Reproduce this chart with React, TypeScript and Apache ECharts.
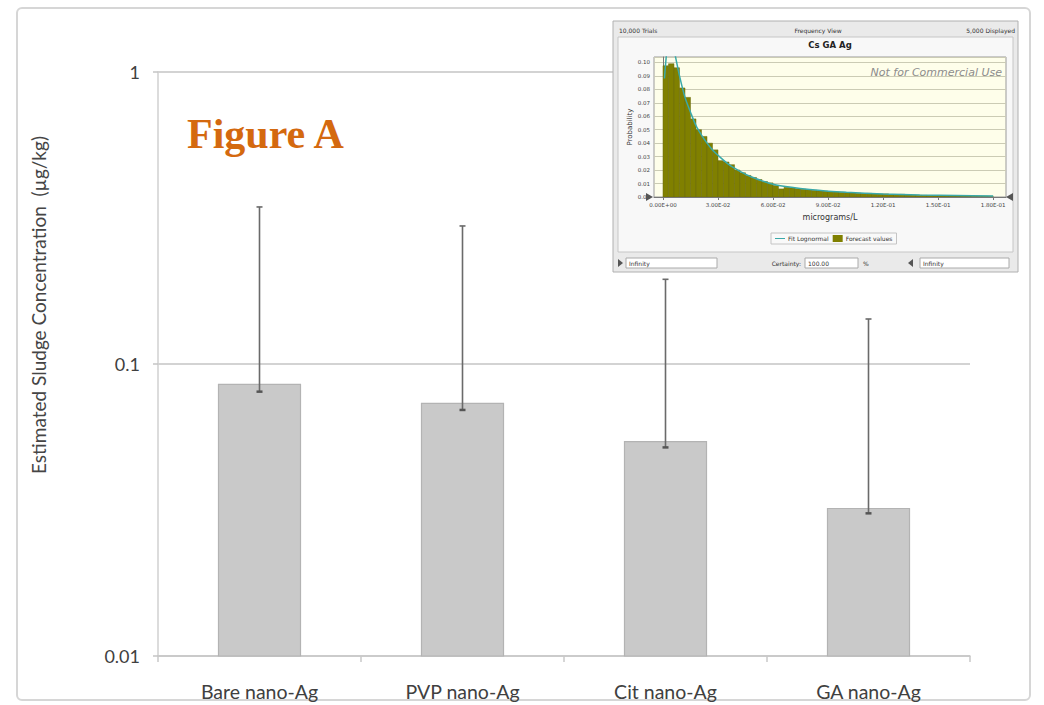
import React, { useEffect, useRef } from "react";
import * as echarts from "echarts";

// ---- main chart data ----
const categories = ["Bare nano-Ag", "PVP nano-Ag", "Cit nano-Ag", "GA nano-Ag"];
const meanValues = [0.0852, 0.0733, 0.0542, 0.032];
const lowerValues = [0.0804, 0.0696, 0.0518, 0.0308];
const upperValues = [0.345, 0.297, 0.195, 0.1426];
const yTickLabels = ["0.01", "0.1", "1"];

// ---- inset histogram data ----
const binWidth = 0.003;
const histValues = [
  0.0975, 0.099, 0.096, 0.081, 0.074, 0.058, 0.05, 0.045, 0.04, 0.035,
  0.027, 0.026, 0.024, 0.02, 0.018, 0.016, 0.0145, 0.013, 0.0115, 0.0105,
  0.0085, 0.006, 0.0072, 0.0068, 0.0062, 0.0058, 0.0055, 0.005, 0.0046, 0.0044,
  0.004, 0.0037, 0.0035, 0.0033, 0.003, 0.0028, 0.0026, 0.0027, 0.0024, 0.0022,
  0.0023, 0.0018, 0.0019, 0.002, 0.0016, 0.0014, 0.0013, 0.0012, 0.0011, 0.001,
  0.001, 0.0009, 0.0008, 0.0008, 0.0007, 0.0007, 0.0006, 0.0006, 0.0006, 0.0005,
];
const fitX = [0.0008, 0.0015, 0.0025, 0.004, 0.0055, 0.007, 0.009, 0.012, 0.015, 0.018, 0.021, 0.024, 0.027, 0.03, 0.036, 0.042, 0.048, 0.054, 0.06, 0.07, 0.08, 0.09, 0.1, 0.12, 0.14, 0.16, 0.18];
const fitY = [0.088, 0.1, 0.112, 0.118, 0.113, 0.103, 0.09, 0.074, 0.063, 0.053, 0.046, 0.04, 0.035, 0.031, 0.024, 0.019, 0.015, 0.012, 0.0095, 0.0072, 0.0055, 0.0043, 0.0035, 0.0023, 0.0015, 0.0011, 0.0008];
const insetXTicks = [0, 0.03, 0.06, 0.09, 0.12, 0.15, 0.18];

const FONT = "Lato";

function sciLabel(v: number): string {
  const [m, e] = v.toExponential(2).split("e");
  const sign = e[0] === "-" ? "-" : "+";
  const digits = e.replace(/[+-]/, "").padStart(2, "0");
  return m + "E" + sign + digits;
}

export default function App() {
  const ref = useRef<HTMLDivElement>(null);
  useEffect(() => {
    if (!ref.current) return;
    const chart = echarts.init(ref.current, undefined, { renderer: "svg" });

    const barData = categories.map((c, i) => [i, meanValues[i]]);
    const errData = categories.map((c, i) => [i, lowerValues[i], upperValues[i]]);
    const histData = histValues.map((v, i) => [i * binWidth, (i + 1) * binWidth, v]);
    const fitData = fitX.map((x, i) => [x, fitY[i]]);

    const boxText = (x: number, y: number, text: string, align = "left") => ({
      type: "text",
      z: 105,
      style: { x, y, text, fontSize: 6, fontFamily: "DejaVu Sans", fill: "#333", textAlign: align, textVerticalAlign: "middle" },
    });

    const option: any = {
      animation: false,
      backgroundColor: "#fff",
      grid: [
        { left: 158, top: 72, width: 812, height: 584, containLabel: false },
        {
          left: 654, top: 57, width: 352, height: 140, show: true, z: 110,
          backgroundColor: "#fefeea", borderColor: "#9a9a9a", borderWidth: 1,
        },
      ],
      legend: {
        z: 120,
        left: 771, top: 233,
        orient: "horizontal",
        data: [
          { name: "Fit Lognormal", icon: "path://M0,4 H20 V6 H0 Z" },
          { name: "Forecast values", icon: "rect" },
        ],
        itemWidth: 10, itemHeight: 7, itemGap: 4,
        padding: [2, 4],
        backgroundColor: "#f9f9f9",
        borderColor: "#c4c4c4", borderWidth: 1,
        textStyle: { fontSize: 6, color: "#333", fontFamily: "DejaVu Sans", padding: [0, 0, 0, -2] },
      },
      xAxis: [
        {
          type: "category", gridIndex: 0, data: categories, boundaryGap: true,
          axisLine: { lineStyle: { color: "#c8c8c8", width: 1.5 } },
          axisTick: { show: true, length: 6, lineStyle: { color: "#c8c8c8", width: 1.5 } },
          axisLabel: { color: "#404040", fontSize: 19.5, fontFamily: FONT, margin: 25 },
          splitLine: { show: false },
        },
        {
          type: "value", gridIndex: 1, min: -0.0049, max: 0.187, z: 112,
          name: "micrograms/L", nameLocation: "middle", nameGap: 16,
          nameTextStyle: { fontSize: 8, color: "#333", fontFamily: "DejaVu Sans" },
          axisLine: { show: true, lineStyle: { color: "#777", width: 1 } },
          axisTick: { show: true, length: 3, customValues: insetXTicks, lineStyle: { color: "#777" } },
          axisLabel: {
            customValues: insetXTicks, fontSize: 5.5, color: "#444", margin: 5, fontFamily: "DejaVu Sans",
            formatter: (v: number) => sciLabel(v),
          },
          splitLine: { show: false },
        },
      ],
      yAxis: [
        {
          type: "log", gridIndex: 0, min: 0.01, max: 1, logBase: 10,
          axisLine: { show: true, lineStyle: { color: "#d0d0d0", width: 1.5 } },
          axisTick: { show: true, length: 5, lineStyle: { color: "#c4c4c4", width: 1.5 } },
          axisLabel: {
            color: "#404040", fontSize: 18, fontFamily: FONT, margin: 18,
            formatter: (v: number) => {
              const s = parseFloat(v.toPrecision(6)).toString();
              return yTickLabels.includes(s) ? s : "";
            },
          },
          splitLine: { show: true, lineStyle: { color: "#c4c4c4", width: 1.5 } },
          minorTick: { show: false },
        },
        {
          type: "value", gridIndex: 1, min: 0, max: 0.104, interval: 0.01, z: 112,
          name: "Probability", nameLocation: "middle", nameGap: 20,
          nameTextStyle: { fontSize: 7, color: "#333", fontFamily: "DejaVu Sans" },
          axisLine: { show: true, lineStyle: { color: "#777", width: 1 } },
          axisTick: { show: false },
          axisLabel: {
            fontSize: 5.5, color: "#444", margin: 4, fontFamily: "DejaVu Sans", showMaxLabel: false,
            formatter: (v: number) => v.toFixed(2),
          },
          splitLine: { show: true, lineStyle: { color: "#cbcbb4", width: 1 } },
        },
      ],
      graphic: [
        // outer chart frame
        {
          type: "rect", z: 0,
          shape: { x: 17, y: 8, width: 1013, height: 692, r: 5 },
          style: { fill: "none", stroke: "#d6d6d6", lineWidth: 2 },
        },
        {
          type: "text", z: 5,
          x: 38, y: 305, rotation: Math.PI / 2,
          style: {
            x: 0, y: 0, text: "Estimated Sludge Concentration  (µg/kg)",
            fontSize: 19, fontFamily: FONT, fill: "#454545",
            textAlign: "center", textVerticalAlign: "middle",
          },
        },
        {
          type: "text", z: 5,
          style: {
            x: 187, y: 134, text: "Figure A", fontSize: 42, fontWeight: "bold",
            fontFamily: "Liberation Serif", fill: "#d4690f", textVerticalAlign: "middle",
          },
        },
        // inset window
        {
          type: "rect", z: 100,
          shape: { x: 613, y: 21, width: 405, height: 251 },
          style: { fill: "#eaeaea", stroke: "#b0b0b0", lineWidth: 1 },
        },
        {
          type: "rect", z: 101,
          shape: { x: 618, y: 37, width: 395, height: 215 },
          style: { fill: "#f8f8f8", stroke: "#c6c6c6", lineWidth: 1 },
        },
        boxText(619, 30, "10,000 Trials"),
        boxText(818, 30, "Frequency View", "center"),
        boxText(1015, 30, "5,000 Displayed", "right"),
        {
          type: "text", z: 105,
          style: { x: 830, y: 45, text: "Cs GA Ag", fontSize: 8.5, fontWeight: "bold", fontFamily: "DejaVu Sans", fill: "#222", textAlign: "center", textVerticalAlign: "middle" },
        },
        {
          type: "text", z: 130,
          style: { x: 1002, y: 72, text: "Not for Commercial Use", fontSize: 11, fontStyle: "italic", fontFamily: "DejaVu Sans", fill: "#8c8c8c", textAlign: "right", textVerticalAlign: "middle" },
        },
        { type: "polygon", z: 130, shape: { points: [[646, 193], [653, 197], [646, 201]] }, style: { fill: "#555" } },
        { type: "polygon", z: 130, shape: { points: [[1013, 193], [1006, 197], [1013, 201]] }, style: { fill: "#555" } },
        // bottom control row
        { type: "polygon", z: 105, shape: { points: [[618, 259], [623, 263], [618, 267]] }, style: { fill: "#555" } },
        { type: "rect", z: 104, shape: { x: 626, y: 258, width: 91, height: 10 }, style: { fill: "#fff", stroke: "#aaa", lineWidth: 1 } },
        boxText(629, 263, "Infinity"),
        boxText(801, 263, "Certainty:", "right"),
        { type: "rect", z: 104, shape: { x: 805, y: 258, width: 53, height: 10 }, style: { fill: "#fff", stroke: "#aaa", lineWidth: 1 } },
        boxText(808, 263, "100.00"),
        boxText(863, 263, "%"),
        { type: "polygon", z: 105, shape: { points: [[913, 259], [908, 263], [913, 267]] }, style: { fill: "#555" } },
        { type: "rect", z: 104, shape: { x: 920, y: 258, width: 89, height: 10 }, style: { fill: "#fff", stroke: "#aaa", lineWidth: 1 } },
        boxText(923, 263, "Infinity"),
      ],
      series: [
        {
          type: "custom", name: "mean", xAxisIndex: 0, yAxisIndex: 0, z: 2,
          data: barData, encode: { x: 0, y: 1 },
          renderItem: (params: any, api: any) => {
            const i = api.value(0);
            const v = api.value(1);
            const top = api.coord([i, v]);
            const base = api.coord([i, 0.01]);
            const band = api.coord([1, v])[0] - api.coord([0, v])[0];
            const w = band * 0.404;
            return {
              type: "rect",
              shape: { x: top[0] - w / 2, y: top[1], width: w, height: base[1] - top[1] },
              style: { fill: "#c9c9c9", stroke: "#b3b3b3", lineWidth: 1.2 },
            };
          },
        },
        {
          type: "custom", name: "error", xAxisIndex: 0, yAxisIndex: 0, z: 3,
          data: errData, encode: { x: 0, y: [1, 2] },
          renderItem: (params: any, api: any) => {
            const i = api.value(0);
            const lo = api.coord([i, api.value(1)]);
            const hi = api.coord([i, api.value(2)]);
            const c = 3;
            const st = { stroke: "#6a6a6a", lineWidth: 1.6 };
            return {
              type: "group",
              children: [
                { type: "line", shape: { x1: lo[0], y1: lo[1], x2: hi[0], y2: hi[1] }, style: st },
                { type: "line", shape: { x1: lo[0] - c, y1: lo[1], x2: lo[0] + c, y2: lo[1] }, style: { stroke: "#555", lineWidth: 2.5 } },
                { type: "line", shape: { x1: hi[0] - c, y1: hi[1], x2: hi[0] + c, y2: hi[1] }, style: st },
              ],
            };
          },
        },
        {
          type: "custom", name: "Forecast values", xAxisIndex: 1, yAxisIndex: 1, z: 120,
          data: histData, encode: { x: [0, 1], y: 2 }, clip: true,
          itemStyle: { color: "#808000" },
          renderItem: (params: any, api: any) => {
            const p0 = api.coord([api.value(0), api.value(2)]);
            const p1 = api.coord([api.value(1), 0]);
            return {
              type: "rect",
              shape: { x: p0[0], y: p0[1], width: p1[0] - p0[0], height: p1[1] - p0[1] },
              style: { fill: "#808000", stroke: "#6b6b10", lineWidth: 0.5 },
            };
          },
        },
        {
          type: "line", name: "Fit Lognormal", xAxisIndex: 1, yAxisIndex: 1, z: 125,
          data: fitData, smooth: 0.3, showSymbol: false, symbol: "none", clip: true,
          lineStyle: { color: "#3aa9a9", width: 1.5 },
          itemStyle: { color: "#3aa9a9" },
        },
      ],
    };
    chart.setOption(option);
    return () => chart.dispose();
  }, []);

  return (
    <div
      ref={ref}
      style={{ position: "fixed", left: 0, top: 0, width: 1044, height: 705 }}
    />
  );
}
